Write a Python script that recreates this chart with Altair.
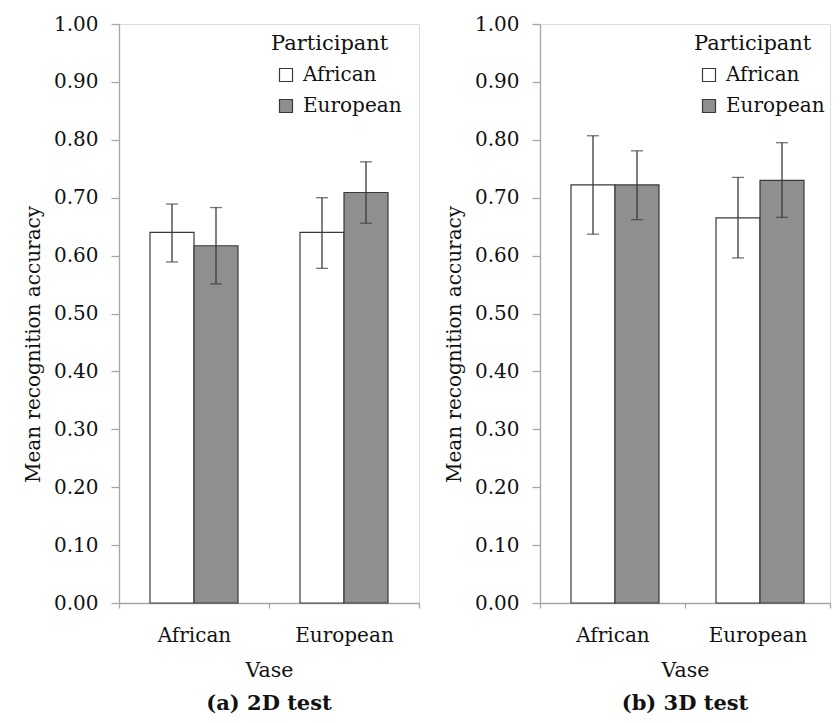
import altair as alt
import pandas as pd

vase = ["African", "African", "European", "European"]
participant = ["African", "European", "African", "European"]

mean_2d = [0.640, 0.617, 0.640, 0.709]
lo_2d = [0.589, 0.551, 0.578, 0.656]
hi_2d = [0.689, 0.683, 0.700, 0.762]

mean_3d = [0.722, 0.722, 0.665, 0.730]
lo_3d = [0.637, 0.662, 0.596, 0.666]
hi_3d = [0.807, 0.781, 0.735, 0.795]

y_ticks = [0.0, 0.1, 0.2, 0.3, 0.4, 0.5, 0.6, 0.7, 0.8, 0.9, 1.0]

FONT = "DejaVu Serif"
AXIS_GRAY = "#a6a6a6"
DARK = "#3a3a3a"
TXT = "#111111"


def panel(means, lows, highs, caption, width, legend_x):
    df = pd.DataFrame({
        "Vase": vase,
        "Participant": participant,
        "mean": means,
        "lo": lows,
        "hi": highs,
    })
    band = width / 2.0
    x = alt.X(
        "Vase:N",
        title="Vase",
        scale=alt.Scale(paddingInner=0, paddingOuter=0),
        axis=alt.Axis(
            labelAngle=0, labelFont=FONT, labelFontSize=20, labelColor=TXT,
            titleFont=FONT, titleFontSize=20.5, titleFontWeight="normal", titleColor=TXT,
            titlePadding=15, labelPadding=17, tickSize=5, tickBand="extent",
            tickColor=AXIS_GRAY, domainColor=AXIS_GRAY, domainWidth=1.3, tickWidth=1.3,
        ),
    )
    xo = alt.XOffset(
        "Participant:N",
        scale=alt.Scale(paddingInner=0, paddingOuter=(band / 44.0 - 2) / 2),
    )
    y_scale = alt.Scale(domain=[0, 1])
    base = alt.Chart(df)
    bars = base.mark_bar(stroke=DARK, strokeWidth=1.2).encode(
        x=x,
        xOffset=xo,
        y=alt.Y(
            "mean:Q",
            scale=y_scale,
            title="Mean recognition accuracy",
            axis=alt.Axis(
                values=y_ticks, format=".2f", grid=False,
                labelFont=FONT, labelFontSize=20, labelColor=TXT, labelPadding=13,
                tickSize=8, tickColor=AXIS_GRAY, domainColor=AXIS_GRAY,
                domainWidth=1.3, tickWidth=1.3,
                titleFont=FONT, titleFontSize=20, titleFontWeight="normal",
                titleColor=TXT, titlePadding=10, titleY=320,
            ),
        ),
        fill=alt.Fill(
            "Participant:N",
            scale=alt.Scale(domain=["African", "European"], range=["#ffffff", "#8f8f8f"]),
            legend=alt.Legend(
                title="Participant", orient="none", legendX=legend_x, legendY=9,
                titleFont=FONT, titleFontSize=21, titleFontWeight="normal",
                titleColor=TXT, titlePadding=11,
                labelFont=FONT, labelFontSize=20, labelColor=TXT, labelOffset=7,
                symbolType="square", symbolSize=169, symbolStrokeColor=DARK,
                symbolStrokeWidth=1.2, symbolOffset=5, rowPadding=11,
            ),
        ),
    )
    rules = base.mark_rule(color=DARK, strokeWidth=1.3).encode(
        x=x, xOffset=xo,
        y=alt.Y("lo:Q", scale=y_scale),
        y2="hi:Q",
    )
    caps_hi = base.mark_tick(color=DARK, thickness=1.3, size=12).encode(
        x=x, xOffset=xo, y=alt.Y("hi:Q", scale=y_scale),
    )
    caps_lo = base.mark_tick(color=DARK, thickness=1.3, size=12).encode(
        x=x, xOffset=xo, y=alt.Y("lo:Q", scale=y_scale),
    )
    return alt.layer(bars, rules, caps_hi, caps_lo).properties(
        width=width, height=579,
        title=alt.TitleParams(
            caption, orient="bottom", anchor="middle", font=FONT, fontSize=21,
            fontWeight="bold", color=TXT, offset=12,
        ),
    )


left = panel(mean_2d, lo_2d, hi_2d, "(a) 2D test", 300, 152)
right = panel(mean_3d, lo_3d, hi_3d, "(b) 3D test", 290, 154)

chart = alt.hconcat(left, right, spacing=22).resolve_scale(
    fill="independent"
).resolve_legend(fill="independent").properties(
    padding={"left": 14, "top": 5, "right": 0, "bottom": 0}
).configure_view(stroke=None).configure(background="white")

chart.save("out.html", embed_options={"renderer": "svg", "actions": False})
